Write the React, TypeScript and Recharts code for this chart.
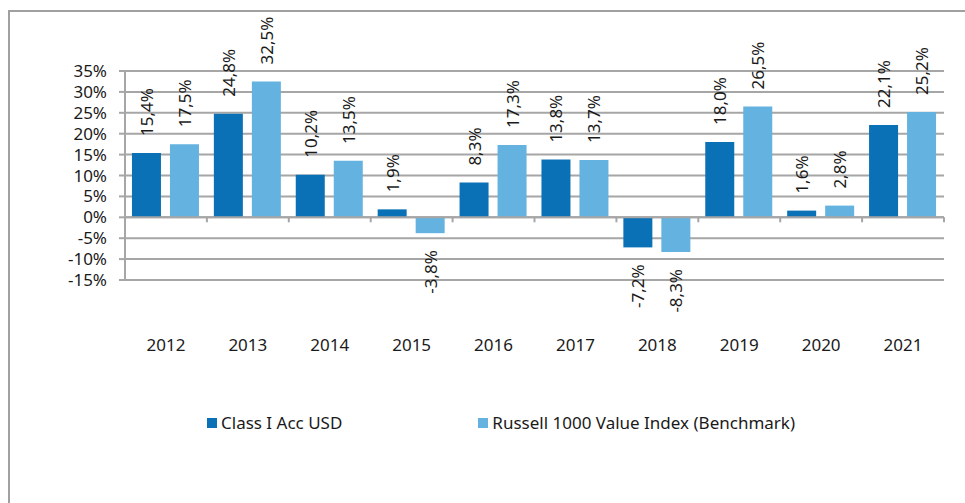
import {
  Bar,
  BarChart,
  CartesianGrid,
  LabelList,
  Legend,
  ReferenceLine,
  XAxis,
  YAxis,
} from "recharts";

const years = ["2012", "2013", "2014", "2015", "2016", "2017", "2018", "2019", "2020", "2021"];
const classIAcc = [15.4, 24.8, 10.2, 1.9, 8.3, 13.8, -7.2, 18.0, 1.6, 22.1];
const benchmark = [17.5, 32.5, 13.5, -3.8, 17.3, 13.7, -8.3, 26.5, 2.8, 25.2];
const yTicks = [-15, -10, -5, 0, 5, 10, 15, 20, 25, 30, 35];

const CLASS_NAME = "Class I Acc USD";
const BENCH_NAME = "Russell 1000 Value Index (Benchmark)";

const DARK = "#0a71b6";
const LIGHT = "#63b2e0";
const GRID = "#a6a6a6";
const TEXT = "#1a1a1a";
const FONT = '"Noto Sans", sans-serif';

const data = years.map((year, i) => ({
  year,
  classI: classIAcc[i],
  bench: benchmark[i],
}));

const fmtPct = (v: number) => `${v.toFixed(1).replace(".", ",")}%`;

// rotated value label, above positive bars / below negative ones
function BarValueLabel(props: any) {
  const x = Number(props.x);
  const y = Number(props.y);
  const width = Number(props.width);
  const height = Number(props.height);
  const value = Number(props.value);
  const top = Math.min(y, y + height);
  const bottom = Math.max(y, y + height);
  const cx = x + width / 2;
  const positive = value >= 0;
  const ty = positive ? top - 17 : bottom + 17;
  return (
    <text
      x={cx}
      y={ty}
      transform={`rotate(-90, ${cx}, ${ty})`}
      textAnchor={positive ? "start" : "end"}
      dominantBaseline="central"
      fontSize={17}
      fill={TEXT}
    >
      {fmtPct(value)}
    </text>
  );
}

// zero line acting as the category axis, with tick marks between categories
function ZeroAxis(props: any) {
  const { x1, x2, y1 } = props;
  const step = (x2 - x1) / years.length;
  return (
    <g>
      <line x1={x1} x2={x2} y1={y1} y2={y1} stroke={GRID} strokeWidth={2} />
      {Array.from({ length: years.length + 1 }, (_, i) => (
        <line
          key={i}
          x1={x1 + step * i}
          x2={x1 + step * i}
          y1={y1}
          y2={y1 + 5}
          stroke={GRID}
          strokeWidth={2}
        />
      ))}
    </g>
  );
}

function YearTick(props: any) {
  const { x, y, payload } = props;
  return (
    <text x={x} y={y} dy="0.71em" textAnchor="middle" fontSize={17} fill={TEXT}>
      {payload.value}
    </text>
  );
}

function SeriesLegend(props: any) {
  const { payload } = props;
  return (
    <div
      style={{
        display: "flex",
        paddingLeft: 207,
        fontSize: 17,
        lineHeight: "20px",
        color: TEXT,
        fontFamily: FONT,
      }}
    >
      {(payload || []).map((entry: any, i: number) => (
        <div
          key={entry.value}
          style={{ display: "flex", alignItems: "center", marginRight: i === 0 ? 136 : 0 }}
        >
          <span
            style={{
              display: "inline-block",
              width: 10,
              height: 10,
              background: entry.color,
              marginRight: 4,
            }}
          />
          <span>{entry.value}</span>
        </div>
      ))}
    </div>
  );
}

export default function App() {
  return (
    <div
      style={{
        position: "absolute",
        left: 0,
        top: 0,
        width: 965,
        height: 503,
        background: "#fff",
        fontFamily: FONT,
        overflow: "hidden",
      }}
    >
      <div
        style={{
          position: "absolute",
          left: 8,
          top: 10,
          width: 965,
          height: 500,
          borderLeft: "2px solid #a0a0a0",
          borderTop: "2px solid #a0a0a0",
        }}
      />
      <BarChart
        width={965}
        height={503}
        data={data}
        margin={{ top: 71, right: 21, bottom: 0, left: 0 }}
        barCategoryGap="8.5%"
        barGap={9}
      >
        <CartesianGrid vertical={false} stroke={GRID} strokeWidth={2} />
        <XAxis
          dataKey="year"
          height={223}
          axisLine={false}
          tickLine={false}
          tickSize={0}
          tickMargin={59}
          tick={<YearTick />}
          interval={0}
        />
        <YAxis
          width={125}
          domain={[-15, 35]}
          ticks={yTicks}
          interval={0}
          tickFormatter={(v: number) => `${v}%`}
          axisLine={{ stroke: GRID, strokeWidth: 2 }}
          tickLine={{ stroke: GRID, strokeWidth: 2 }}
          tickSize={6}
          tickMargin={12}
          tick={{ fill: TEXT, fontSize: 17 }}
        />
        <ReferenceLine y={0} shape={ZeroAxis} />
        <Legend
          verticalAlign="middle"
          content={<SeriesLegend />}
          wrapperStyle={{ top: 413, left: 0, width: 965 }}
        />
        <Bar dataKey="classI" name={CLASS_NAME} fill={DARK} isAnimationActive={false}>
          <LabelList dataKey="classI" content={<BarValueLabel />} />
        </Bar>
        <Bar dataKey="bench" name={BENCH_NAME} fill={LIGHT} isAnimationActive={false}>
          <LabelList dataKey="bench" content={<BarValueLabel />} />
        </Bar>
      </BarChart>
    </div>
  );
}
